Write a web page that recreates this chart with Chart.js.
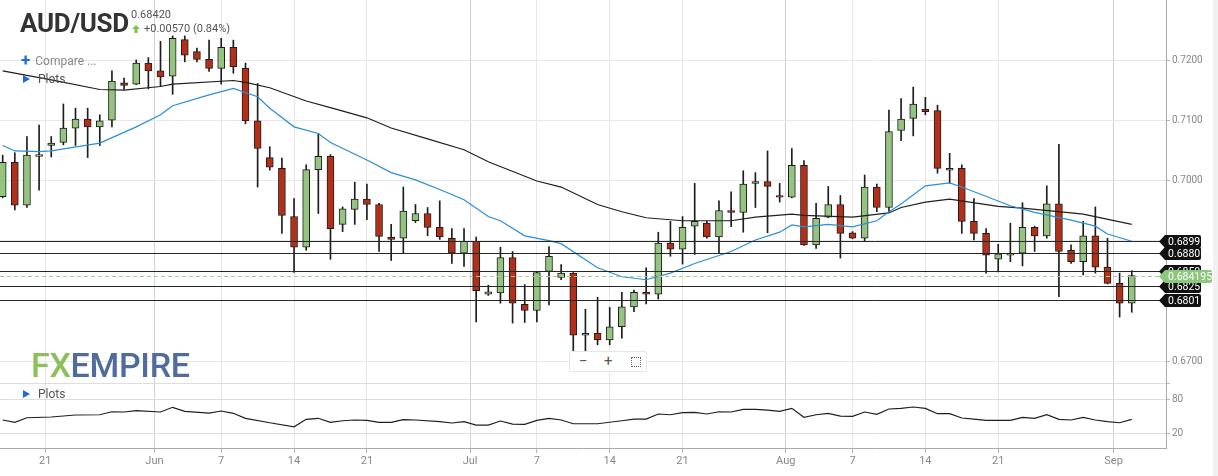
<!DOCTYPE html>
<html>
<head>
<meta charset="utf-8">
<script src="https://cdn.jsdelivr.net/npm/chart.js@4.4.1/dist/chart.umd.min.js"></script>
<style>
  body { margin: 0; background: #fff; font-family: Roboto, Arial, sans-serif; }
  #wrap { position: relative; width: 1218px; height: 476px; overflow: hidden; }
  #mainBox { position: absolute; left: 0; top: 0; width: 1218px; height: 383px; }
  #lowBox { position: absolute; left: 0; top: 383px; width: 1218px; height: 93px; }
  .ov { position: absolute; white-space: nowrap; }
  .title { left: 20px; top: 7px; font: 700 26px/32px Roboto, sans-serif; color: #333; letter-spacing: -0.3px; }
  .last { left: 131px; top: 8px; font: 11px/13px Roboto, sans-serif; color: #555; }
  .chg { left: 132px; top: 22px; font: 11px/13px Roboto, sans-serif; color: #555; }
  .chg svg { vertical-align: -1px; margin-right: 4px; }
  .menu { left: 21px; font: 12px/14px Roboto, sans-serif; color: #888; }
  .menu b { color: #1e6ad6; font: 700 17px/14px Roboto, sans-serif; margin-right: 5px; vertical-align: -1px; }
  .tri { display: inline-block; width: 0; height: 0; border-left: 7px solid #1e6ad6;
         border-top: 4px solid transparent; border-bottom: 4px solid transparent; margin: 0 8px 0 2px; vertical-align: 0; }
  .plots { color: #555; }
  .logo { left: 31px; top: 345px; font: 500 34px/40px Roboto, sans-serif; letter-spacing: -0.3px; }
  .logo .fx { color: #8cc05c; }
  .logo .em { color: #4f6c9c; }
  .zoombar { left: 569px; top: 351px; width: 76px; height: 19px; background: #fff;
             border: 1px solid #e6e6e6; border-radius: 2px; font: 15px/19px Roboto, sans-serif; color: #555; }
  .zoombar span { position: absolute; top: 0; }
  .fs { position: absolute; left: 61px; top: 5px; width: 8px; height: 8px; border: 1px dotted #666; }
  .edge { right: 0; top: 0; width: 5px; height: 476px; background: #f1f1f1; }
</style>
</head>
<body>
<div id="wrap">
  <div class="ov edge"></div>
  <div id="mainBox"><canvas id="mainChart"></canvas></div>
  <div id="lowBox"><canvas id="lowChart"></canvas></div>

  <div class="ov title">AUD/USD</div>
  <div class="ov last">0.68420</div>
  <div class="ov chg"><svg width="8" height="8" viewBox="0 0 8 8"><polygon points="4,0 8,4 5.5,4 5.5,8 2.5,8 2.5,4 0,4" fill="#7cc04a"/></svg>+0.00570 (0.84%)</div>
  <div class="ov menu" style="top:53px"><b>+</b>Compare ...</div>
  <div class="ov menu plots" style="top:72px"><span class="tri"></span>Plots</div>
  <div class="ov menu plots" style="top:387px"><span class="tri"></span>Plots</div>
  <div class="ov logo"><span class="fx">FX</span><span class="em">EMPIRE</span></div>
  <div class="ov zoombar"><span style="left:9px">&minus;</span><span style="left:34px">+</span><div class="fs"></div></div>
</div>

<script>
// ── Candle data (daily, Sun-Fri, mid May → early Sep) ───────────
const opens  = [0.6973,0.7030,0.6959,0.7040,0.7058,0.7063,0.7087,0.7102,0.7089,0.7100,
                0.7162,0.7160,0.7195,0.7182,0.7173,0.7234,0.7214,0.7201,0.7186,0.7221,
                0.7186,0.7099,0.7038,0.7020,0.6940,0.6889,0.7018,0.7040,0.6927,0.6952,
                0.6969,0.6960,0.6906,0.6904,0.6933,0.6945,0.6922,0.6904,0.6879,0.6899,
                0.6811,0.6813,0.6872,0.6794,0.6784,0.6849,0.6839,0.6846,0.6743,0.6746,
                0.6735,0.6757,0.6790,0.6814,0.6811,0.6896,0.6886,0.6924,0.6929,0.6906,
                0.6950,0.6947,0.6995,0.6998,0.6975,0.6972,0.7025,0.6893,0.6939,0.6960,
                0.6913,0.6904,0.6989,0.6955,0.7083,0.7103,0.7118,0.7116,0.7017,0.7020,
                0.6932,0.6912,0.6869,0.6876,0.6879,0.6922,0.6908,0.6961,0.6884,0.6865,
                0.6908,0.6856,0.6829,0.6796];
const highs  = [0.7042,0.7046,0.7073,0.7092,0.7073,0.7127,0.7120,0.7120,0.7109,0.7182,
                0.7170,0.7200,0.7204,0.7231,0.7240,0.7240,0.7220,0.7233,0.7236,0.7233,
                0.7195,0.7161,0.7056,0.7037,0.6970,0.7026,0.7078,0.7043,0.6956,0.6997,
                0.6994,0.6962,0.6927,0.6989,0.6960,0.6955,0.6966,0.6920,0.6920,0.6906,
                0.6826,0.6889,0.6882,0.6827,0.6849,0.6890,0.6860,0.6847,0.6786,0.6806,
                0.6789,0.6814,0.6818,0.6855,0.6914,0.6932,0.6940,0.6995,0.6932,0.6966,
                0.6981,0.7016,0.7013,0.7049,0.6995,0.7053,0.7033,0.6962,0.6990,0.6975,
                0.6915,0.7009,0.6994,0.7117,0.7136,0.7155,0.7138,0.7125,0.7045,0.7026,
                0.6970,0.6920,0.6894,0.6929,0.6963,0.6924,0.6991,0.7060,0.6893,0.6932,
                0.6956,0.6904,0.6846,0.6850];
const lows   = [0.6971,0.6951,0.6955,0.6984,0.7039,0.7059,0.7058,0.7038,0.7058,0.7089,
                0.7151,0.7159,0.7152,0.7156,0.7143,0.7197,0.7197,0.7181,0.7160,0.7178,
                0.7094,0.6989,0.7017,0.6912,0.6847,0.6884,0.6945,0.6869,0.6915,0.6927,
                0.6935,0.6882,0.6867,0.6880,0.6930,0.6908,0.6902,0.6862,0.6857,0.6765,
                0.6809,0.6796,0.6763,0.6764,0.6765,0.6793,0.6835,0.6717,0.6716,0.6727,
                0.6727,0.6738,0.6782,0.6795,0.6803,0.6874,0.6861,0.6877,0.6904,0.6879,
                0.6923,0.6914,0.6955,0.6913,0.6964,0.6971,0.6892,0.6887,0.6938,0.6871,
                0.6903,0.6900,0.6948,0.6948,0.7066,0.7074,0.7109,0.7012,0.6995,0.6912,
                0.6901,0.6846,0.6848,0.6865,0.6858,0.6882,0.6904,0.6807,0.6862,0.6843,
                0.6846,0.6828,0.6773,0.6781];
const closes = [0.7030,0.6959,0.7042,0.7043,0.7062,0.7087,0.7102,0.7089,0.7099,0.7165,
                0.7158,0.7195,0.7182,0.7172,0.7236,0.7208,0.7201,0.7186,0.7221,0.7189,
                0.7099,0.7053,0.7022,0.6942,0.6889,0.7018,0.7040,0.6920,0.6953,0.6969,
                0.6960,0.6907,0.6902,0.6949,0.6945,0.6922,0.6906,0.6879,0.6899,0.6817,
                0.6815,0.6872,0.6796,0.6784,0.6847,0.6874,0.6846,0.6743,0.6746,0.6735,
                0.6757,0.6790,0.6814,0.6811,0.6896,0.6886,0.6922,0.6932,0.6906,0.6950,
                0.6947,0.6994,0.6998,0.6990,0.6972,0.7025,0.6893,0.6937,0.6960,0.6912,
                0.6904,0.6989,0.6955,0.7081,0.7102,0.7127,0.7114,0.7020,0.7020,0.6932,
                0.6912,0.6876,0.6878,0.6879,0.6922,0.6908,0.6961,0.6882,0.6865,0.6908,
                0.6856,0.6829,0.6796,0.6842];

// ── Moving averages (read at candle indices) ─────────────────────
const fastIdx = [0,1,3,4,8,11,13,14,17,19,21,22,24,26,27,30,32,34,36,38,40,41,43,45,46,49,51,53,55,57,
                 60,62,64,65,66,68,70,72,73,74,76,78,79,83,85,88,90,91,93];
const fastVal = [0.7058,0.7049,0.7048,0.7049,0.7062,0.7089,0.7109,0.7124,0.7142,0.7153,
                 0.7139,0.7120,0.7089,0.7078,0.7063,0.7034,0.7013,0.7001,0.6985,0.6968,
                 0.6940,0.6933,0.6908,0.6900,0.6895,0.6855,0.6840,0.6835,0.6846,0.6862,
                 0.6882,0.6901,0.6914,0.6926,0.6923,0.6927,0.6923,0.6933,0.6948,0.6961,
                 0.6991,0.6996,0.6989,0.6958,0.6947,0.6934,0.6924,0.6911,0.6899];
const slowIdx = [0,4,8,10,13,14,19,20,22,25,27,30,32,35,38,40,44,46,49,51,53,56,60,62,65,66,70,73,74,76,
                 78,82,84,88,89,93];
const slowVal = [0.7182,0.7167,0.7151,0.7150,0.7156,0.7160,0.7166,0.7163,0.7154,0.7132,
                 0.7121,0.7104,0.7087,0.7069,0.7051,0.7031,0.6999,0.6989,0.6960,0.6948,
                 0.6938,0.6933,0.6933,0.6939,0.6944,0.6942,0.6939,0.6946,0.6955,0.6964,
                 0.6969,0.6957,0.6954,0.6946,0.6944,0.6927];

// ── Lower pane oscillator ────────────────────────────────────────
const oscIdx = [0,1,2,4,6,8,9,10,11,13,14,15,17,18,19,20,22,24,25,26,27,28,29,30,31,32,33,34,36,37,
                38,39,40,41,42,43,44,45,46,47,49,51,52,53,54,55,56,57,58,59,60,61,62,63,64,65,66,67,68,69,
                70,71,72,73,74,75,76,77,78,79,80,81,83,84,85,86,87,88,89,90,91,92,93];
const oscVal = [43.5,39.4,47.5,48.8,52.3,52.8,58.1,57.6,59.9,57.6,65.9,58.8,55.8,59.4,55.3,46.5,38.7,31.6,44.7,46.5,
                39.4,42.2,43.5,42.9,39.4,39.4,44.0,43.5,40.5,38.2,40.5,34.6,34.6,41.7,36.4,35.9,42.9,46.5,43.5,36.9,
                36.9,42.2,45.2,45.2,54.1,52.8,56.4,57.1,54.1,58.1,57.6,62.4,62.4,61.1,58.8,64.1,48.2,52.8,55.3,50.5,
                50.0,57.6,53.5,62.9,64.1,66.4,64.1,54.6,54.6,47.0,45.2,42.9,42.9,48.2,46.5,52.8,44.7,43.5,48.2,43.5,
                40.5,38.7,44.7];

// ── Levels / price tags ──────────────────────────────────────────
const levelValues = [0.6899, 0.6880, 0.6850, 0.6825, 0.6801];
const levelLabels = ['0.6899', '0.6880', '0.6850', '0.6825', '0.6801'];
const lastPrice = 0.684195;
const lastLabel = '0.684195';

// ── Axes ─────────────────────────────────────────────────────────
const xTickPos  = [3.5, 12.5, 18, 24, 30, 38.5, 44, 50, 56, 64.5, 70, 76, 82, 91.5];
const xTickText = ['21', 'Jun', '7', '14', '21', 'Jul', '7', '14', '21', 'Aug', '7', '14', '21', 'Sep'];
const monthTicks = [12.5, 38.5, 64.5, 91.5];
const priceTicks = [0.67, 0.68, 0.69, 0.70, 0.71, 0.72];
const priceTickText = ['0.6700', '', '', '0.7000', '0.7100', '0.7200'];
const oscTicks = [20, 80];
const oscTickText = ['20', '80'];

const X_MIN = -0.22, X_MAX = 95.82;
const Y_MIN = 0.66635, Y_MAX = 0.72997;
const OSC_MIN = -5.9, OSC_MAX = 108.8;

const UP = '#94c47f', DOWN = '#b2301a', EDGE = '#1d1d1d';
const AXIS_W = 52;

const vGridColor = c => (c.tick && monthTicks.includes(c.tick.value)) ? '#d2d2d2' : '#e8e8e8';

// drop the label overflow padding so the plot fills its box exactly
function noPad(s) { s.paddingTop = 0; s.paddingBottom = 0; s.paddingLeft = 0; s.paddingRight = 0; }

function xScale(showLabels) {
  return {
    type: 'linear', min: X_MIN, max: X_MAX, offset: false, display: true,
    afterBuildTicks: s => { s.ticks = xTickPos.map(v => ({ value: v })); },
    ticks: {
      display: showLabels, autoSkip: false, maxRotation: 0, padding: 2,
      color: '#888', font: { family: 'Roboto', size: 11 },
      callback: (v, i) => xTickText[i]
    },
    grid: { offset: false, color: vGridColor, drawTicks: showLabels, tickLength: 5, tickColor: '#b5b5b5' },
    border: { display: showLabels, color: '#aaa' },
    afterFit: s => { noPad(s); s.height = showLabels ? 28 : 0; }
  };
}

function yScale(min, max, tickVals, tickText, gridColor) {
  return {
    type: 'linear', position: 'right', min, max,
    afterBuildTicks: s => { s.ticks = tickVals.map(v => ({ value: v })); },
    ticks: { color: '#888', font: { family: 'Roboto', size: 10 }, padding: 2,
             callback: (v, i) => tickText[i] || '' },
    grid: { color: gridColor, tickLength: 4, tickColor: '#b5b5b5' },
    border: { color: '#aaa' },
    afterFit: s => { noPad(s); s.width = AXIS_W; }
  };
}

// ── Price tags plugin ────────────────────────────────────────────
function drawTag(ctx, a, py, text, fill, right) {
  const h = 6.5, tip = a.right - 7;
  ctx.beginPath();
  ctx.moveTo(tip, py);
  ctx.lineTo(a.right - 1, py - h);
  ctx.lineTo(right - 2, py - h);
  ctx.quadraticCurveTo(right, py - h, right, py - h + 2);
  ctx.lineTo(right, py + h - 2);
  ctx.quadraticCurveTo(right, py + h, right - 2, py + h);
  ctx.lineTo(a.right - 1, py + h);
  ctx.closePath();
  ctx.fillStyle = fill;
  ctx.fill();
  ctx.fillStyle = '#fff';
  ctx.font = '10.5px Roboto';
  ctx.textBaseline = 'middle';
  ctx.textAlign = 'left';
  ctx.fillText(text, a.right + 2, py + 0.5);
}

const levelPlugin = {
  id: 'levels',
  afterDatasetsDraw(chart) {
    const { ctx, chartArea: a, scales: { y } } = chart;
    ctx.save();
    ctx.lineWidth = 1;
    ctx.strokeStyle = '#262626';
    levelValues.forEach(v => {
      const py = Math.round(y.getPixelForValue(v)) + 0.5;
      ctx.beginPath(); ctx.moveTo(a.left, py); ctx.lineTo(a.right, py); ctx.stroke();
    });
    const pl = Math.round(y.getPixelForValue(lastPrice)) + 0.5;
    ctx.strokeStyle = '#9fd08e';
    ctx.setLineDash([4, 3]);
    ctx.beginPath(); ctx.moveTo(a.left, pl); ctx.lineTo(a.right, pl); ctx.stroke();
    ctx.restore();
  },
  afterDraw(chart) {
    const { ctx, chartArea: a, scales: { y } } = chart;
    ctx.save();
    levelValues.forEach((v, i) => {
      drawTag(ctx, a, Math.round(y.getPixelForValue(v)) + 0.5, levelLabels[i], '#111', a.right + 35);
    });
    drawTag(ctx, a, Math.round(y.getPixelForValue(lastPrice)) + 0.5, lastLabel, '#8dc77b', a.right + 46);
    ctx.restore();
  }
};

// ── Main candle chart ────────────────────────────────────────────
new Chart(document.getElementById('mainChart'), {
  type: 'bar',
  data: {
    datasets: [
      {
        label: 'Wicks', order: 4, grouped: false,
        data: highs.map((h, i) => ({ x: i, y: [lows[i], h] })),
        backgroundColor: EDGE, borderWidth: 0, barThickness: 1
      },
      {
        label: 'Bodies', order: 3, grouped: false,
        data: opens.map((o, i) => ({ x: i, y: [o, closes[i]] })),
        backgroundColor: c => closes[c.dataIndex] >= opens[c.dataIndex] ? UP : DOWN,
        borderColor: EDGE, borderWidth: 1, borderSkipped: false, barThickness: 7
      },
      {
        type: 'line', label: 'MA slow', order: 2,
        data: slowIdx.map((k, i) => ({ x: k, y: slowVal[i] })),
        borderColor: '#1f1f1f', borderWidth: 1.2, pointRadius: 0, tension: 0
      },
      {
        type: 'line', label: 'MA fast', order: 1,
        data: fastIdx.map((k, i) => ({ x: k, y: fastVal[i] })),
        borderColor: '#2a8fd4', borderWidth: 1.2, pointRadius: 0, tension: 0
      }
    ]
  },
  options: {
    responsive: true, maintainAspectRatio: false, animation: false,
    layout: { padding: 0 },
    plugins: { legend: { display: false }, tooltip: { enabled: false } },
    scales: {
      x: xScale(false),
      y: yScale(Y_MIN, Y_MAX, priceTicks, priceTickText, '#e8e8e8')
    }
  },
  plugins: [levelPlugin]
});

// ── Lower pane ───────────────────────────────────────────────────
new Chart(document.getElementById('lowChart'), {
  type: 'line',
  data: {
    datasets: [{
      label: 'Plots',
      data: oscIdx.map((k, i) => ({ x: k, y: oscVal[i] })),
      borderColor: '#1f1f1f', borderWidth: 1.2, pointRadius: 0, tension: 0
    }]
  },
  options: {
    responsive: true, maintainAspectRatio: false, animation: false,
    layout: { padding: 0 },
    plugins: { legend: { display: false }, tooltip: { enabled: false } },
    scales: {
      x: xScale(true),
      y: yScale(OSC_MIN, OSC_MAX, oscTicks.concat([OSC_MAX]), oscTickText, '#dedede')
    }
  }
});
</script>
</body>
</html>
